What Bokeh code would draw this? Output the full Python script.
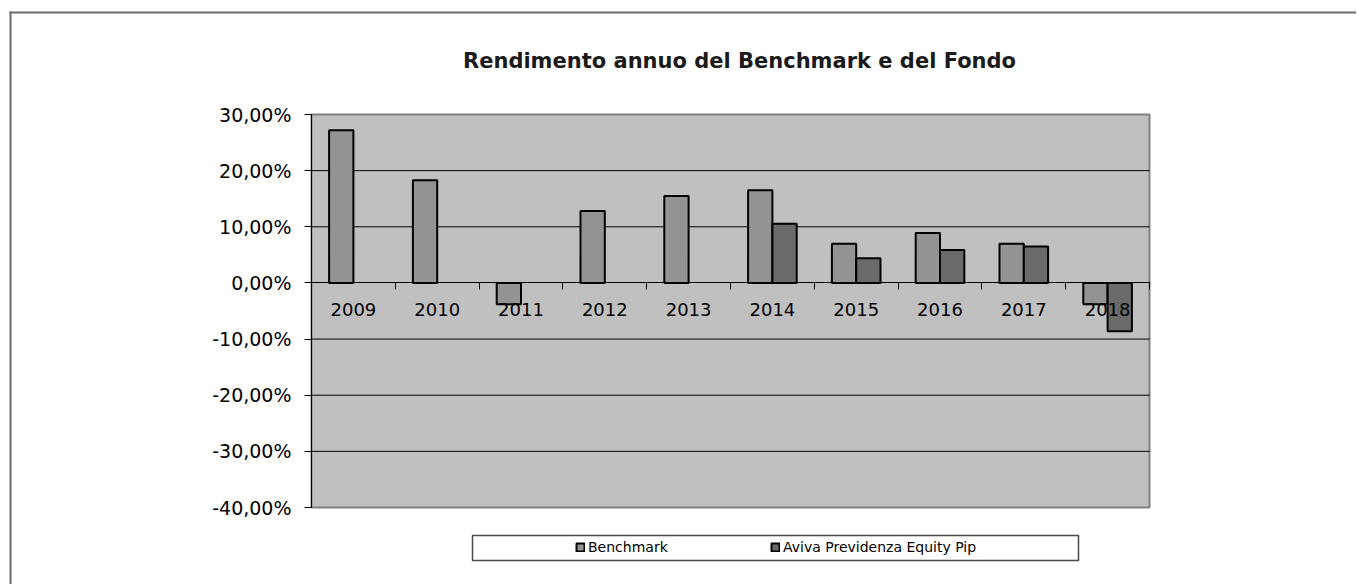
import numpy as np
from bokeh.plotting import figure
from bokeh.models import (Range1d, FixedTicker, CustomJSTickFormatter, LinearAxis,
                          Legend, LegendItem, BoxAnnotation, ColumnDataSource, Label)
from bokeh.transform import dodge
from bokeh.embed import file_html
from bokeh.resources import INLINE

# ---------------- data ----------------
years = ["2009", "2010", "2011", "2012", "2013", "2014", "2015", "2016", "2017", "2018"]
benchmark = [27.2, 18.3, -3.8, 12.8, 15.5, 16.5, 7.0, 8.9, 7.0, -3.8]
fund = [np.nan, np.nan, np.nan, np.nan, np.nan, 10.55, 4.4, 5.85, 6.5, -8.6]
y_ticks = [-40, -30, -20, -10, 0, 10, 20, 30]
title_text = "Rendimento annuo del Benchmark e del Fondo"
series_names = ["Benchmark", "Aviva Previdenza Equity Pip"]

# ---------------- layout (pixels) ----------------
FONT = "DejaVu Sans"
W, H = 1356, 584
PL, PR, PT, PB = 311, 1149, 114, 507          # plot area edges
n = len(years)
ymin, ymax = y_ticks[0], y_ticks[-1]
sx = (PR - PL) / n
sy = (PB - PT) / (ymax - ymin)


def px_x(px):
    return (px - PL) / sx


def px_y(py):
    return ymax - (py - PT) / sy


centers = [i + 0.5 for i in range(n)]
src = ColumnDataSource(dict(xc=centers, year=years, bench=benchmark, fund=fund))

p = figure(width=W, height=H, x_range=Range1d(px_x(0), px_x(W)), y_range=Range1d(px_y(H), px_y(0)),
           x_axis_type=None, y_axis_type=None, title=None,
           output_backend="svg", toolbar_location=None,
           min_border_left=0, min_border_right=0, min_border_top=0, min_border_bottom=0)
p.background_fill_color = "white"
p.border_fill_color = "white"
p.outline_line_color = None

# outer chart border (only left and top edges visible)
BORDER = "#6b6b6b"
p.add_layout(BoxAnnotation(left=px_x(9), right=px_x(11), top=px_y(11), bottom=None,
                           fill_color=BORDER, fill_alpha=1, line_alpha=0, level="underlay"))
p.add_layout(BoxAnnotation(left=px_x(9), right=None, top=px_y(11), bottom=px_y(13),
                           fill_color=BORDER, fill_alpha=1, line_alpha=0, level="underlay"))
# plot area
p.add_layout(BoxAnnotation(left=0, right=n, bottom=ymin, top=ymax,
                           fill_color="#C0C0C0", fill_alpha=1, line_color="#808080", line_alpha=1,
                           line_width=2, level="underlay"))

# horizontal grid lines
inner = [t for t in y_ticks if ymin < t < ymax and t != 0]
p.segment(x0=0, x1=n, y0=inner, y1=inner, line_color="black", line_width=1)

r1 = p.vbar(x=dodge("xc", -0.145), top="bench", width=0.29, source=src,
            fill_color="#939393", line_color="black", line_width=2)
r2 = p.vbar(x=dodge("xc", 0.145), top="fund", width=0.29, source=src,
            fill_color="#6a6a6a", line_color="black", line_width=2)

# y axis
yax = LinearAxis(fixed_location=0, bounds=(ymin, ymax), ticker=FixedTicker(ticks=y_ticks),
                 formatter=CustomJSTickFormatter(code="return tick.toFixed(2).replace('.', ',') + '%'"))
yax.axis_line_color = "black"
yax.major_tick_out = 7
yax.major_tick_in = 0
yax.minor_tick_line_color = None
yax.major_label_text_font = FONT
yax.major_label_text_font_size = "19px"
yax.major_label_text_color = "black"
yax.major_label_standoff = 13
p.add_layout(yax, "left")

# x axis labels at category centres, on the zero line
xax = LinearAxis(fixed_location=0, bounds=(0, n), ticker=FixedTicker(ticks=centers),
                 formatter=CustomJSTickFormatter(args=dict(years=years),
                                                 code="return years[Math.floor(tick)]"))
xax.axis_line_color = "black"
xax.axis_line_width = 1
xax.major_tick_line_color = None
xax.minor_tick_line_color = None
xax.major_label_text_font = FONT
xax.major_label_text_font_size = "18px"
xax.major_label_text_color = "black"
xax.major_label_standoff = 14
p.add_layout(xax, "below")

# boundary ticks
tax = LinearAxis(fixed_location=0, bounds=(0, n), ticker=FixedTicker(ticks=list(range(n + 1))),
                 formatter=CustomJSTickFormatter(code="return ''"))
tax.axis_line_color = None
tax.major_tick_out = 7
tax.major_tick_in = 0
tax.major_tick_line_color = "black"
tax.minor_tick_line_color = None
p.add_layout(tax, "below")

# title
p.add_layout(Label(x=px_x(739), y=px_y(60), text=title_text, text_align="center", text_baseline="middle",
                   text_font=FONT, text_font_size="21px", text_font_style="bold", text_color="#1a1a1a"))

# legend box
p.add_layout(BoxAnnotation(left=px_x(472), right=px_x(1078), top=px_y(535), bottom=px_y(560),
                           fill_color="white", fill_alpha=1, line_color="#4a4a4a", line_alpha=1,
                           line_width=1.5))

for r, name, gx in [(r1, series_names[0], 575), (r2, series_names[1], 770)]:
    leg = Legend(items=[LegendItem(label=name, renderers=[r])], location=(gx, H - 555),
                 orientation="horizontal", padding=0, margin=0, border_line_color=None,
                 background_fill_alpha=0, glyph_width=10, glyph_height=10, label_height=15,
                 label_standoff=3, label_text_font=FONT, label_text_font_size="14px",
                 label_text_color="black")
    p.add_layout(leg, "center")

open("out.html", "w").write(file_html(p, INLINE))
